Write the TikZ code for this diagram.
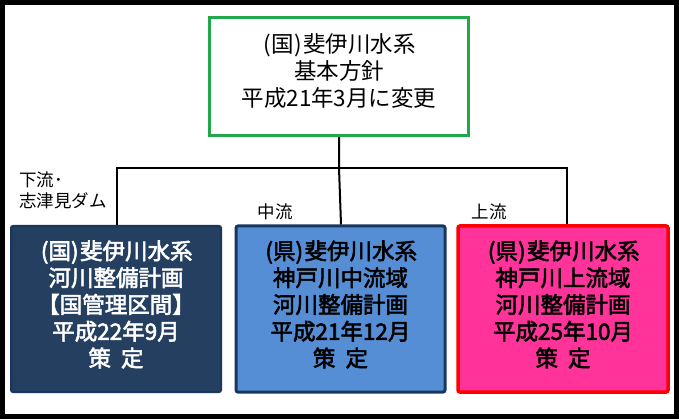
\documentclass[tikz,border=0pt]{standalone}
\usepackage{fontspec}
\setmainfont{Noto Sans CJK JP}
\newfontfamily\medfont[FakeBold=2.5]{Noto Sans CJK JP}
\definecolor{topgreen}{HTML}{22A84A}
\definecolor{navyfill}{HTML}{243F60}
\definecolor{navyline}{HTML}{17375E}
\definecolor{bluefill}{HTML}{558ED5}
\definecolor{pinkfill}{HTML}{FF3399}
\definecolor{redline}{HTML}{FF0000}
\newcommand{\po}{\kern1.5pt(}
\newcommand{\pc}{)\kern1.5pt}
\tikzset{
  topbox/.style={rectangle, inner sep=0pt, draw=topgreen, line width=3.5pt, fill=white,
    minimum width=259pt, minimum height=118pt},
  lowbox/.style={rectangle, inner sep=0pt, rounded corners=2pt, minimum width=210pt,
    minimum height=166pt},
  toptext/.style={align=center, inner sep=0pt, font=\fontsize{22.5}{27}\selectfont},
  lowtext/.style={align=center, inner sep=0pt, font=\fontsize{22.5}{26.8}\selectfont\medfont},
  lbl/.style={inner sep=0pt, font=\fontsize{17.5}{21}\selectfont, align=left},
  conn/.style={draw=black, line width=2pt}
}
\begin{document}
\begin{tikzpicture}[x=1pt,y=-1pt]
\useasboundingbox (0,0) rectangle (679,419);
\draw[line width=5pt] (2.5,2.5) rectangle (676.5,416.5);
\node[topbox] (top) at (339,76.5) {};
\node[toptext] (toptxt) at ([yshift=5pt]top.center) {\po 国\pc 斐伊川水系\\基本方針\\平成21年3月に変更};
\node[lowbox, fill=navyfill, draw=navyline, line width=2pt] (bl) at (116,309) {};
\node[lowtext, text=white] (bltxt) at ([yshift=4.5pt]bl.center)
  {\po 国\pc 斐伊川水系\\河川整備計画\\【国管理区間】\\平成22年9月\\策\ \ 定};
\node[lowbox, fill=bluefill, draw=navyline, line width=3pt, minimum width=209pt] (bm) at (340.5,309) {};
\node[lowtext, text=black] (bmtxt) at ([yshift=4.5pt]bm.center)
  {\po 県\pc 斐伊川水系\\神戸川中流域\\河川整備計画\\平成21年12月\\策\ \ 定};
\node[lowbox, fill=pinkfill, draw=redline, line width=3.5pt] (br) at (563,309) {};
\node[lowtext, text=black] (brtxt) at ([yshift=4.5pt]br.center)
  {\po 県\pc 斐伊川水系\\神戸川上流域\\河川整備計画\\平成25年10月\\策\ \ 定};
\coordinate (j) at (top.south |- 0,168);
\draw[conn] (top.south) -- (j) -- ([xshift=0.5pt]bm.north);
\draw[conn] ([xshift=1pt]bl.north) |- (j) -| ([xshift=4pt]br.north);
\node[lbl, anchor=north west] (ldown) at (19,172) {下流･\\志津見ダム};
\node[lbl] (lmid) at (275,212) {中流};
\node[lbl] (lup) at (489,212) {上流};
\end{tikzpicture}
\end{document}
